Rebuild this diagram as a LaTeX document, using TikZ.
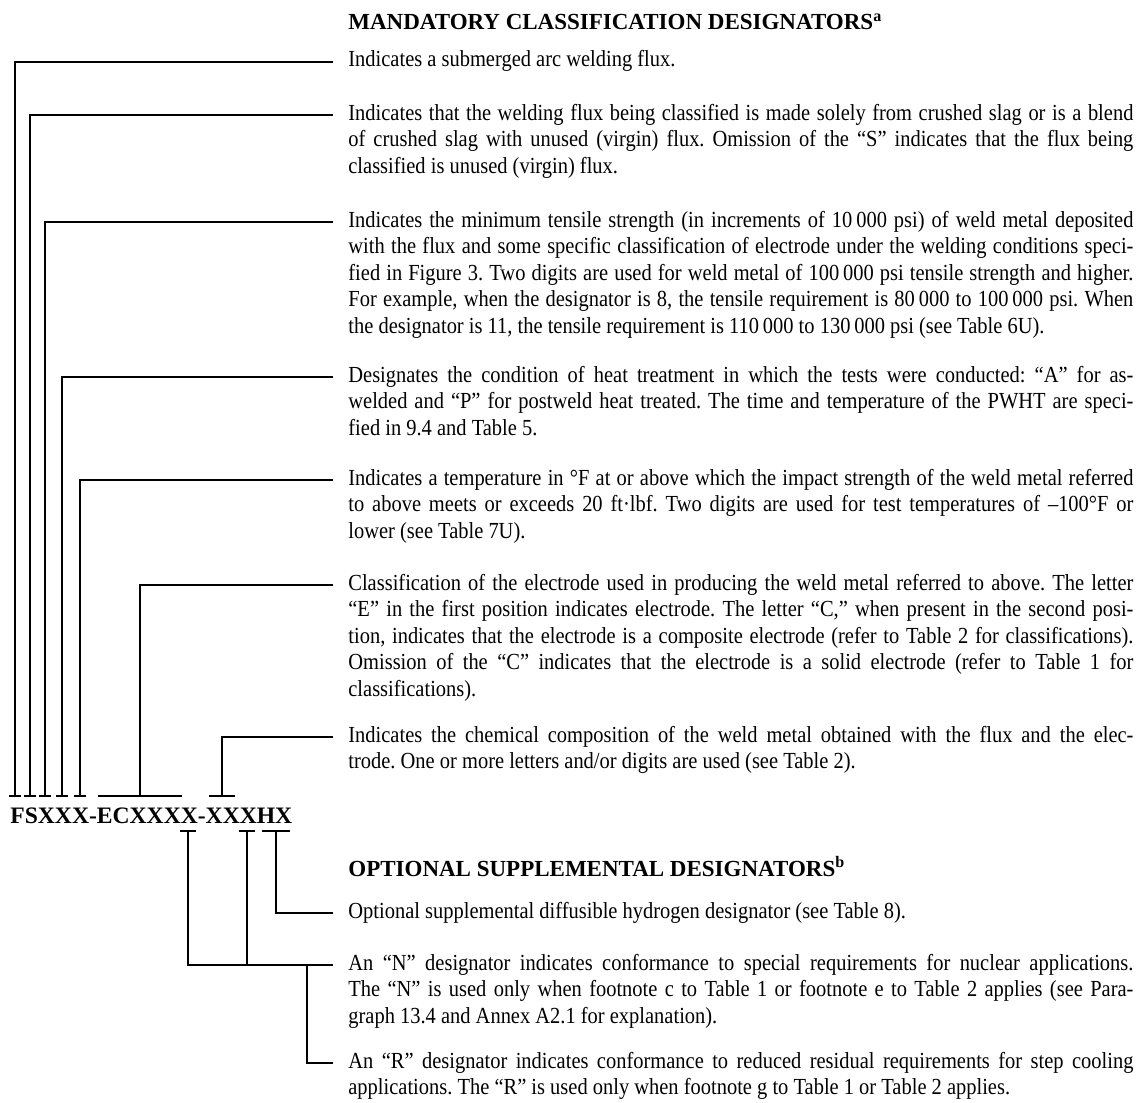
\documentclass[tikz,border=0pt]{standalone}
\usepackage{fontspec}
\setmainfont{Liberation Serif}[FakeStretch=0.89]
\newfontfamily\headfont{Liberation Serif}
\usetikzlibrary{calc}
\frenchspacing

\tikzset{
  lead/.style={line width=0.9pt},
  desc/.style={anchor=base west,inner xsep=7.5pt,inner ysep=0pt,text width=392.5pt,align=justify,
    font=\fontsize{11.5}{13.25}\selectfont},
  head/.style={anchor=base west,inner xsep=7.5pt,inner ysep=0pt,font=\headfont\bfseries\fontsize{11.5}{13}\selectfont}
}

\begin{document}
\begin{tikzpicture}[x=0.5pt,y=-0.5pt]
  \useasboundingbox (0,0) rectangle (1139,1102);
  % designator
  \node[anchor=base west,inner sep=0pt,font=\headfont\bfseries\fontsize{11.8}{14}\selectfont] (code) at (10,823) {FSXXX-ECXXXX-XXXHX};
  % mandatory
  \node[head] (hM) at (333,30) {MANDATORY CLASSIFICATION DESIGNATORS\textsuperscript{a}};
  \node[desc] (dF) at (333,67) {Indicates a submerged arc welding flux.};
  \node[desc] (dS) at (333,120) {Indicates that the welding flux being classified is made solely from crushed slag or is a blend\linebreak
    of crushed slag with unused (virgin) flux. Omission of the “S” indicates that the flux being\linebreak
    classified is unused (virgin) flux.};
  \node[desc] (dT) at (333,227) {Indicates the minimum tensile strength (in increments of 10\,000 psi) of weld metal deposited\linebreak
    with the flux and some specific classification of electrode under the welding conditions speci-\linebreak
    fied in Figure 3. Two digits are used for weld metal of 100\,000 psi tensile strength and higher.\linebreak
    For example, when the designator is 8, the tensile requirement is 80\,000 to 100\,000 psi. When\linebreak
    the designator is 11, the tensile requirement is 110\,000 to 130\,000 psi (see Table 6U).};
  \node[desc] (dP) at (333,382) {Designates the condition of heat treatment in which the tests were conducted: “A” for as-\linebreak
    welded and “P” for postweld heat treated. The time and temperature of the PWHT are speci-\linebreak
    fied in 9.4 and Table 5.};
  \node[desc] (dZ) at (333,485) {Indicates a temperature in °F at or above which the impact strength of the weld metal referred\linebreak
    to above meets or exceeds 20 ft·lbf. Two digits are used for test temperatures of –100°F or\linebreak
    lower (see Table 7U).};
  \node[desc] (dE) at (333,590) {Classification of the electrode used in producing the weld metal referred to above. The letter\linebreak
    “E” in the first position indicates electrode. The letter “C,” when present in the second posi-\linebreak
    tion, indicates that the electrode is a composite electrode (refer to Table 2 for classifications).\linebreak
    Omission of the “C” indicates that the electrode is a solid electrode (refer to Table 1 for\linebreak
    classifications).};
  \node[desc] (dC) at (333,742) {Indicates the chemical composition of the weld metal obtained with the flux and the elec-\linebreak
    trode. One or more letters and/or digits are used (see Table 2).};
  % optional
  \node[head] (hO) at (333,876) {OPTIONAL SUPPLEMENTAL DESIGNATORS\textsuperscript{b}};
  \node[desc] (dH) at (333,918) {Optional supplemental diffusible hydrogen designator (see Table 8).};
  \node[desc] (dN) at (333,970) {An “N” designator indicates conformance to special requirements for nuclear applications.\linebreak
    The “N” is used only when footnote c to Table 1 or footnote e to Table 2 applies (see Para-\linebreak
    graph 13.4 and Annex A2.1 for explanation).};
  \node[desc] (dR) at (333,1068) {An “R” designator indicates conformance to reduced residual requirements for step cooling\linebreak
    applications. The “R” is used only when footnote g to Table 1 or Table 2 applies.};
  % ticks above the designator
  \foreach \x/\w/\n in {15/6/F,30/6/S,45/6/T,62/6/P,80/6/Z,140/42/E,222/13/C} {
    \draw[lead] (\x-\w,796) -- (\x+\w,796);
    \coordinate (k\n) at (\x,796);
  }
  \foreach \n in {F,S,T,P,Z,E,C}
    \draw[lead] (k\n) |- ([yshift=2.5pt]d\n.base west);
  % ticks below the designator
  \foreach \x/\w/\n in {188/8/N,247/8/R,276/14/H} {
    \draw[lead] (\x-\w,831) -- (\x+\w,831);
    \coordinate (k\n) at (\x,831);
  }
  \draw[lead] (kH) |- ([yshift=2.5pt]dH.base west);
  \draw[lead] (kN) |- ([yshift=2.5pt]dN.base west);
  \draw[lead] (kR) |- ([yshift=2.5pt]dN.base west);
  \path ([yshift=2.5pt]dN.base west) ++(-26,0) coordinate (jR);
  \draw[lead] (jR) |- ([yshift=2.5pt]dR.base west);
\end{tikzpicture}
\end{document}
